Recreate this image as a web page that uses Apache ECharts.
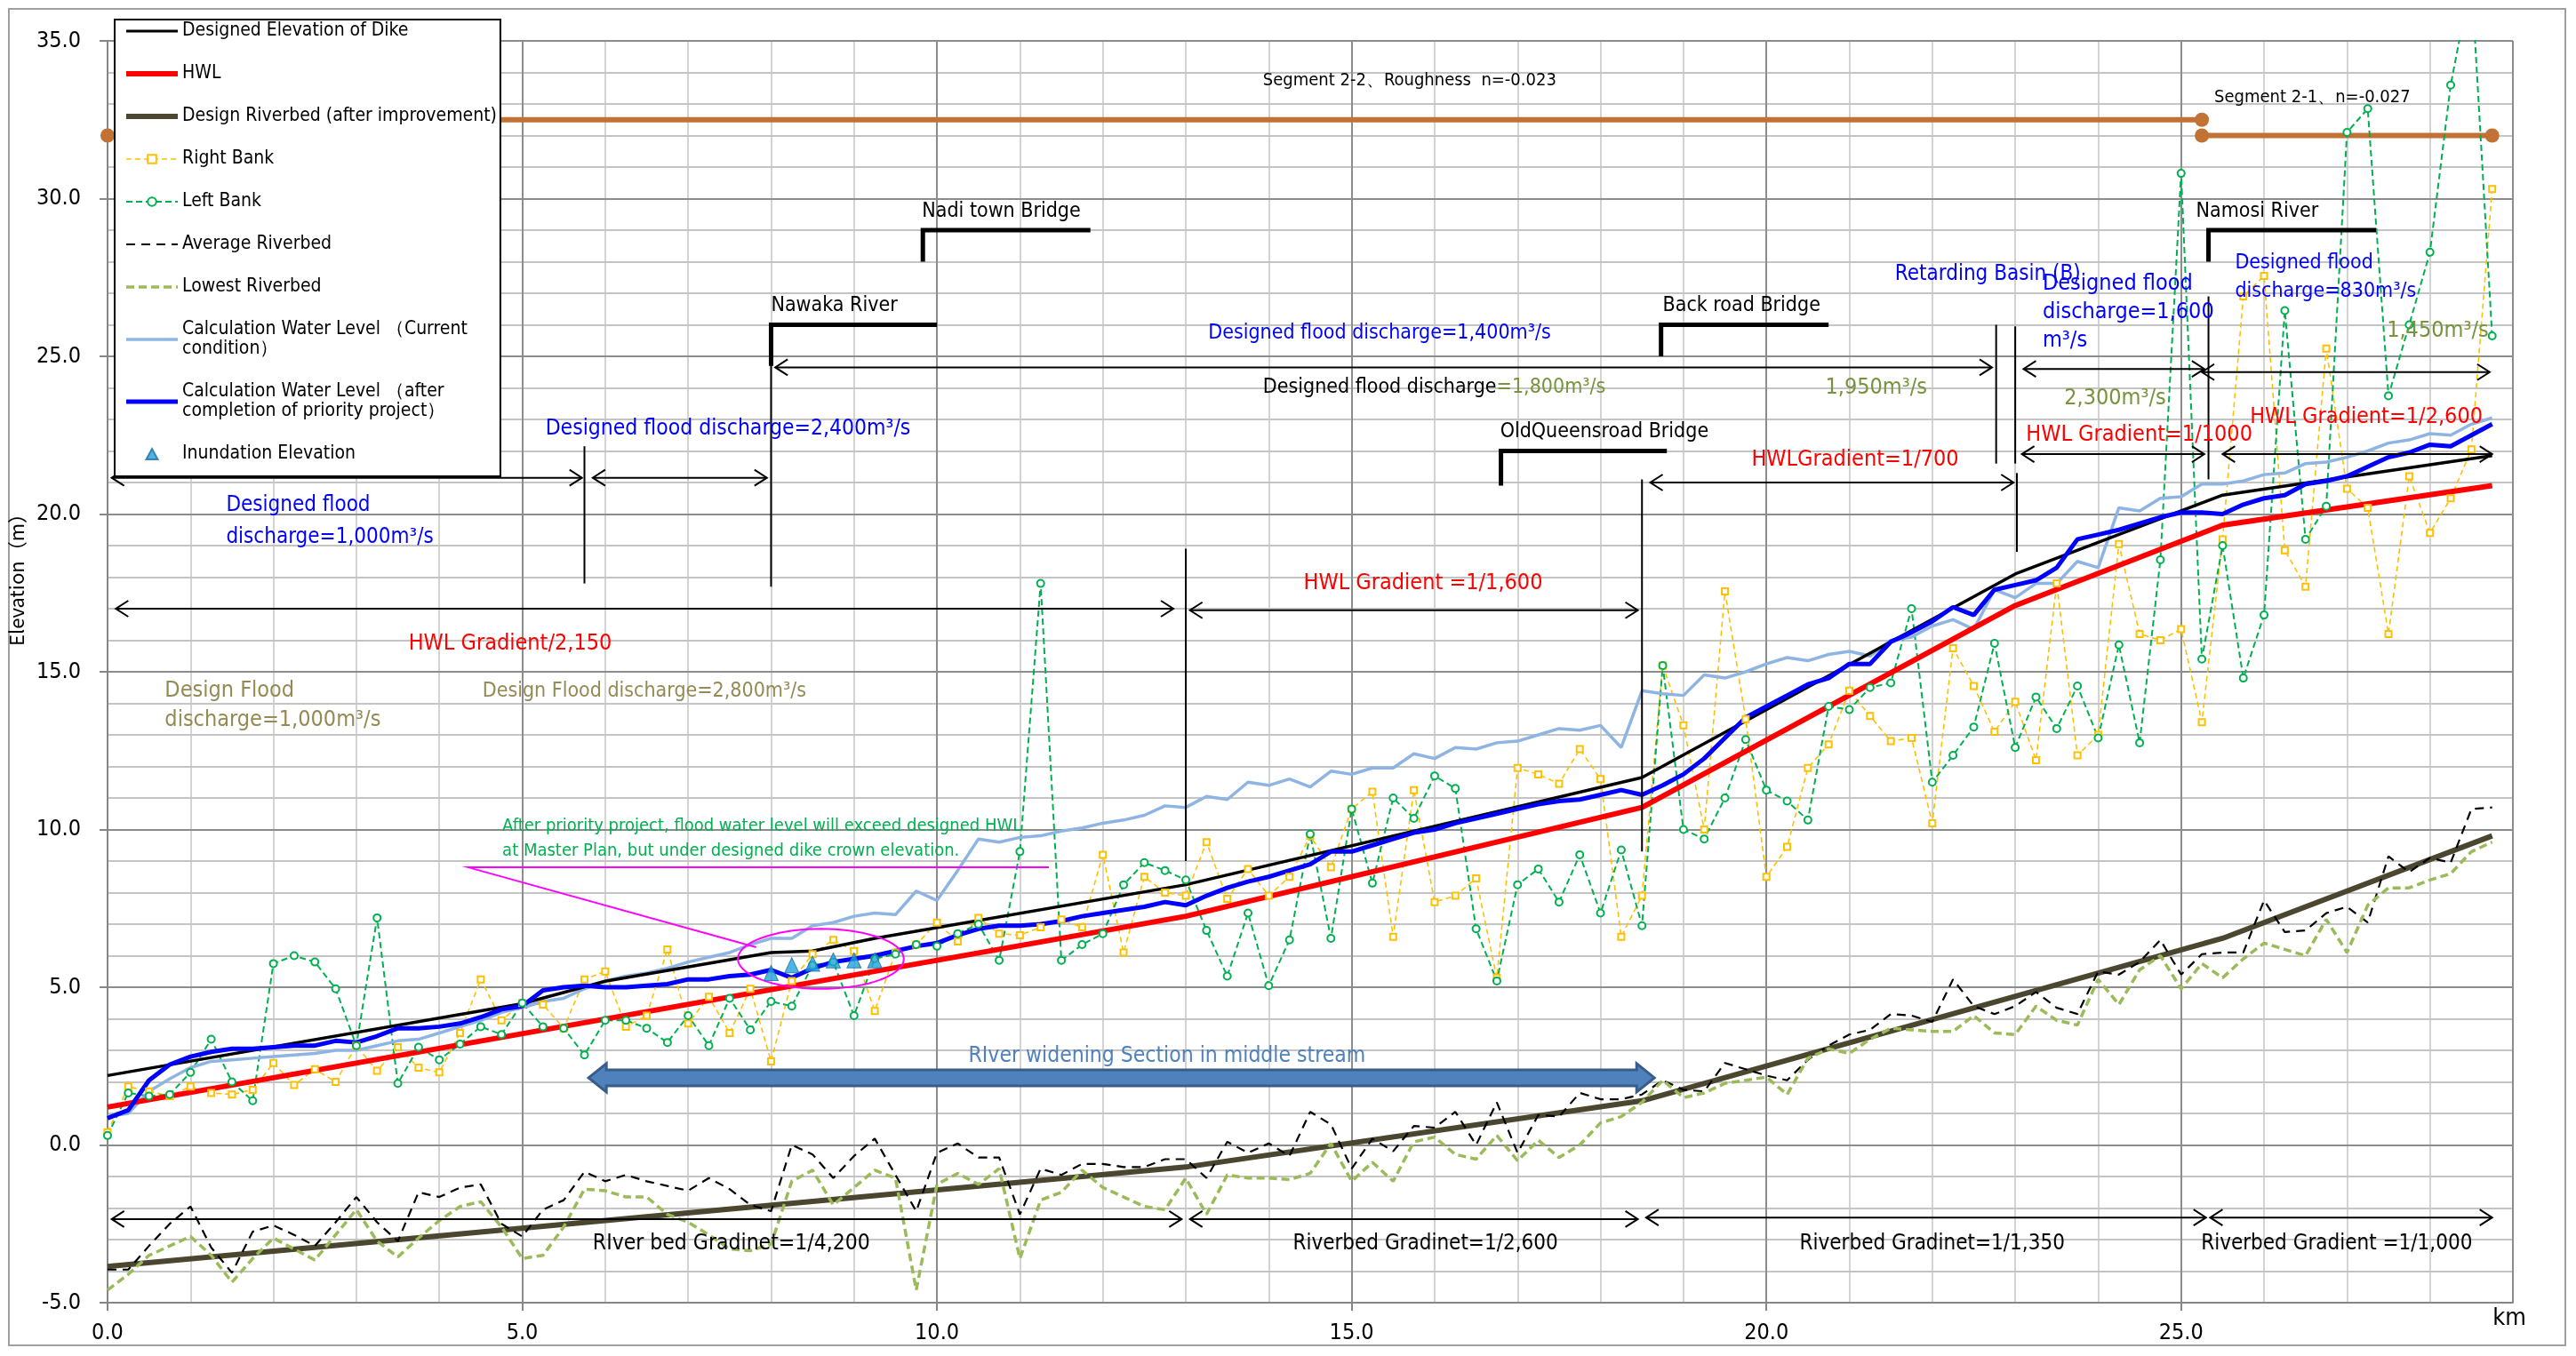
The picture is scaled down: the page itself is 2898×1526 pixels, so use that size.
<!DOCTYPE html>
<html><head><meta charset="utf-8">
<script src="https://cdn.jsdelivr.net/npm/echarts@6/dist/echarts.min.js"></script>
<style>html,body{margin:0;padding:0;background:#fff}#c{width:2898px;height:1526px}</style>
</head><body><div id="c"></div><script>
// ---------------- DATA ----------------
const STATIONS = [0,0.25,0.5,0.75,1,1.25,1.5,1.75,2,2.25,2.5,2.75,3,3.25,3.5,3.75,4,4.25,4.5,4.75,5,5.25,5.5,5.75,6,6.25,6.5,6.75,7,7.25,7.5,7.75,8,8.25,8.5,8.75,9,9.25,9.5,9.75,10,10.25,10.5,10.75,11,11.25,11.5,11.75,12,12.25,12.5,12.75,13,13.25,13.5,13.75,14,14.25,14.5,14.75,15,15.25,15.5,15.75,16,16.25,16.5,16.75,17,17.25,17.5,17.75,18,18.25,18.5,18.75,19,19.25,19.5,19.75,20,20.25,20.5,20.75,21,21.25,21.5,21.75,22,22.25,22.5,22.75,23,23.25,23.5,23.75,24,24.25,24.5,24.75,25,25.25,25.5,25.75,26,26.25,26.5,26.75,27,27.25,27.5,27.75,28,28.25,28.5,28.75];

const LEFT_BANK = [0.3,1.65,1.55,1.6, 2.3,3.35,2.0,1.4, 5.75,6.0,5.8,4.95, 3.15,7.2,1.95,3.1, 2.7,3.2,3.75,3.5, 4.5,3.75,3.7,2.85, 3.95,3.95,3.7,3.25, 4.1,3.15,4.65,3.65, 4.55,4.4,5.7,5.8, 4.1,5.9,6.05,6.35, 6.3,6.7,7.0,5.85, 9.3,17.8,5.85,6.35, 6.7,8.25,8.95,8.7, 8.4,6.8,5.35,7.35, 5.05,6.5,9.85,6.55, 10.65,8.3,11.0,10.35, 11.7,11.3,6.85,5.2, 8.25,8.75,7.7,9.2, 7.35,9.35,6.95,15.2, 10.0,9.7,11.0,12.85, 11.25,10.9,10.3,13.9, 13.8,14.5,14.65,17.0, 11.5,12.35,13.25,15.9, 12.6,14.2,13.2,14.55, 12.9,15.85,12.75,18.55, 30.8,15.4,19.0,14.8, 16.8,26.45,19.2,20.25, 32.1,32.85,23.75,26.0, 28.3,33.6,37.0,25.65];

const RIGHT_BANK = [0.4,1.85,1.7,1.55, 1.85,1.65,1.6,1.75, 2.6,1.9,2.4,2.0, 3.15,2.35,3.1,2.45, 2.3,3.55,5.25,3.95, 4.5,4.45,3.7,5.25, 5.5,3.75,4.1,6.2, 3.85,4.7,3.55,4.95, 2.65,5.2,6.05,6.5, 6.15,4.25,6.1,6.35, 7.05,6.45,7.2,6.7, 6.65,6.9,7.15,6.9, 9.2,6.1,8.5,8.0, 7.9,9.6,7.8,8.75, 7.9,8.5,9.8,8.8, 10.65,11.2,6.6,11.25, 7.7,7.9,8.45,5.3, 11.95,11.75,11.45,12.55, 11.6,6.6,7.9,15.2, 13.3,10.0,17.55,13.5, 8.5,9.45,11.95,12.7, 14.4,13.6,12.8,12.9, 10.2,15.75,14.55,13.1, 14.05,12.2,17.8,12.35, 13.0,19.05,16.2,16.0, 16.35,13.4,19.2,26.9, 27.55,18.85,17.7,25.25, 20.8,20.2,16.2,21.2, 19.4,20.5,22.05,30.3];

const AVG_RIVERBED = [-3.95,-3.95,-3.2,-2.5, -1.95,-3.25,-4.05,-2.75, -2.55,-2.85,-3.2,-2.45, -1.65,-2.45,-3.05,-1.5, -1.65,-1.35,-1.25,-2.5, -2.9,-2.05,-1.75,-0.85, -1.15,-0.95,-1.15,-1.3, -1.45,-1.05,-1.4,-1.9, -2.1,0.0,-0.3,-1.05, -0.35,0.2,-0.95,-2.1, -0.25,0.05,-0.4,-0.4, -2.2,-0.75,-0.95,-0.6, -0.6,-0.7,-0.7,-0.45, -0.45,-1.05,0.1,-0.25, 0.05,-0.35,1.05,0.65, -0.75,0.2,-0.2,0.6, 0.55,1.05,0.0,1.35, -0.25,0.95,0.9,1.65, 1.45,1.45,1.6,2.05, 1.75,1.7,2.6,2.4, 2.2,2.05,2.7,3.15, 3.5,3.65,4.15,4.1, 3.9,5.25,4.4,4.15, 4.4,4.85,4.35,4.15, 5.5,5.4,5.8,6.5, 5.4,6.05,6.1,6.1, 7.75,6.75,6.8,7.35, 7.55,7.05,9.15,8.65, 9.1,8.95,10.65,10.7];

const LOWEST_RIVERBED = [-4.6,-4.1,-3.5,-3.2, -2.9,-3.5,-4.35,-3.6, -2.95,-3.3,-3.65,-2.85, -2.05,-3.05,-3.55,-2.95, -2.4,-1.95,-1.8,-2.6, -3.6,-3.5,-2.6,-1.4, -1.45,-1.65,-1.65,-2.2, -2.45,-2.85,-3.3,-3.35, -3.15,-1.15,-0.8,-1.9, -1.35,-0.8,-1.05,-4.6, -1.25,-0.9,-1.25,-0.75, -3.6,-1.75,-1.5,-0.8, -1.35,-1.65,-1.95,-2.05, -1.05,-2.2,-0.95,-1.05, -1.05,-1.1,-0.9,0.05, -1.15,-0.55,-1.15,0.1, 0.25,-0.3,-0.45,0.3, -0.5,0.15,-0.4,0.0, 0.7,0.9,1.35,2.05, 1.5,1.65,1.95,2.05, 2.15,1.6,2.75,3.05, 2.9,3.35,3.7,3.65, 3.6,3.6,4.1,3.55, 3.5,4.4,3.95,3.8, 5.25,4.45,5.55,6.0, 4.95,5.75,5.3,5.9, 6.4,6.2,6.0,7.15, 6.1,7.6,8.15,8.15, 8.4,8.6,9.3,9.6];

const WL_CURRENT = [0.9,1.0,1.7,2.1, 2.45,2.65,2.7,2.75, 2.8,2.85,2.9,3.0, 3.0,3.15,3.3,3.35, 3.55,3.75,3.95,4.2, 4.35,4.55,4.65,4.95, 5.2,5.35,5.45,5.6, 5.8,5.95,6.1,6.35, 6.55,6.55,6.95,7.05, 7.25,7.35,7.3,8.05, 7.75,8.7,9.7,9.6, 9.75,9.8,9.95,10.05, 10.2,10.3,10.45,10.75, 10.7,11.05,10.95,11.5, 11.4,11.6,11.35,11.85, 11.75,11.95,11.95,12.4, 12.25,12.6,12.55,12.75, 12.8,13.0,13.2,13.15, 13.3,12.6,14.4,14.3, 14.25,14.9,14.8,15.0, 15.25,15.45,15.35,15.55, 15.65,15.5,16.0,16.1, 16.45,16.65,16.35,17.6, 17.35,17.8,17.8,18.5, 18.3,20.2,20.1,20.5, 20.55,20.95,20.95,21.05, 21.25,21.3,21.6,21.65, 21.8,22.0,22.25,22.35, 22.55,22.5,22.85,23.05];

const WL_AFTER = [0.85,1.1,2.05,2.55, 2.8,2.95,3.05,3.05, 3.1,3.15,3.15,3.3, 3.25,3.45,3.7,3.7, 3.75,3.85,4.05,4.3, 4.4,4.9,5.0,5.05, 5.0,5.0,5.05,5.1, 5.25,5.25,5.35,5.4, 5.55,5.3,5.6,5.8, 5.9,6.0,6.15,6.3, 6.4,6.65,6.85,6.95, 6.95,7.0,7.1,7.25, 7.35,7.45,7.55,7.7, 7.6,7.9,8.15,8.35, 8.5,8.7,8.9,9.3, 9.3,9.5,9.7,9.9, 10.0,10.2,10.35,10.5, 10.65,10.8,10.9,10.95, 11.1,11.25,11.1,11.4, 11.75,12.25,12.9,13.55, 13.9,14.25,14.6,14.8, 15.25,15.25,15.95,16.25, 16.6,17.05,16.8,17.6, 17.75,17.9,18.3,19.2, 19.35,19.5,19.7,19.9, 20.05,20.05,20.0,20.3, 20.5,20.6,20.95,21.05, 21.2,21.5,21.8,21.95, 22.2,22.15,22.5,22.85];

const DIKE_KM = [0, 5.0, 6.0, 8.0, 8.5, 9.25, 13.0, 18.5, 23.0, 25.5, 28.75];
const DIKE_EL = [2.2, 4.48, 5.19, 6.1, 6.15, 6.55, 8.25, 11.65, 18.1, 20.6, 21.85];
const HWL_KM = [0, 13.0, 18.5, 23.0, 25.5, 28.75];
const HWL_EL = [1.2, 7.25, 10.7, 17.1, 19.65, 20.9];
const BED_KM = [0, 13.0, 18.5, 25.5, 28.75];
const BED_EL = [-3.85, -0.7, 1.4, 6.55, 9.8];
const INUND_KM = [8.0, 8.25, 8.5, 8.75, 9.0, 9.25];
const INUND_EL = [5.45, 5.7, 5.75, 5.85, 5.85, 5.85];

const X_TICKS = [0, 5, 10, 15, 20, 25];
const Y_TICKS = [-5, 0, 5, 10, 15, 20, 25, 30, 35];

// ------------- ANNOTATION GEOMETRY (data coordinates) -------------
const ARROWS = [
  [0.05, 5.72, 21.15], [5.85, 7.95, 21.15], [8.05, 22.72, 24.65], [23.1, 25.28, 24.6], [25.25, 28.72, 24.5],
  [0.1, 12.85, 17.0], [13.05, 18.45, 16.95], [18.6, 22.98, 21.0], [23.08, 25.28, 21.9], [25.5, 28.75, 21.9],
  [0.05, 12.95, -2.35], [13.05, 18.45, -2.35], [18.55, 25.3, -2.3], [25.35, 28.75, -2.3]
];
const VLINES = [[5.75, 22.15, 17.8], [8.0, 26.0, 17.7], [13.0, 18.9, 9.0], [18.5, 21.1, 9.3],
  [22.77, 26.0, 21.6], [23.0, 25.95, 21.6], [23.02, 21.3, 18.8], [25.33, 26.9, 21.1]];
const BRIDGES = [[9.83, 29.0, 28.0, 11.85], [8.0, 26.0, 24.7, 10.0], [18.73, 26.0, 25.0, 20.75],
  [16.8, 22.0, 20.9, 18.8], [25.33, 29.0, 28.0, 27.35]];
const SEGMENTS = [[0, 2.0, 32.0, 1, 0], [2.0, 25.25, 32.5, 0, 1], [25.25, 28.75, 32.0, 1, 1]];
const WIDEN_ARROW = [[5.8, 18.65, 2.13]];
const CALLOUT = [[11.35, 8.8], [4.35, 8.8], [7.82, 6.27]];
const ELLIPSE = [[8.6, 5.9, 1.0, 0.95]];

const BLUE = '#0000FF', RED = '#FF0000', OLIVE = '#77933C', TAN = '#948A54', GREEN = '#00B050', STEEL = '#4F81BD';
const NARROW = "'Liberation Sans Narrow','Arial Narrow','DejaVu Sans Condensed',sans-serif";

const NOTES = [
  {x:13.93, y:33.75, t:'Segment 2-2、Roughness  n=-0.023', s:20},
  {x:25.4, y:33.2, t:'Segment 2-1、n=-0.027', s:20},
  {x:9.82, y:29.6, t:'Nadi town Bridge', s:23},
  {x:8.0, y:26.6, t:'Nawaka River', s:23},
  {x:18.75, y:26.6, t:'Back road Bridge', s:23},
  {x:16.79, y:22.6, t:'OldQueensroad Bridge', s:23},
  {x:25.18, y:29.6, t:'Namosi River', s:23},
  {x:21.55, y:27.6, t:'Retarding Basin (B)', c:BLUE, s:24},
  {x:23.33, y:26.4, t:'Designed flood\ndischarge=1,600\nm³/s', c:BLUE, s:25, lh:32},
  {x:25.65, y:27.52, t:'Designed flood\ndischarge=830m³/s', c:BLUE, s:23, lh:32},
  {x:27.48, y:25.8, t:'1,450m³/s', c:OLIVE, s:25},
  {x:13.27, y:25.73, t:'Designed flood discharge=1,400m³/s', c:BLUE, s:23},
  {x:13.93, y:24.0, t:'{a|Designed flood discharge}{b|=1,800m³/s}', s:23, rich:true},
  {x:20.71, y:24.0, t:'1,950m³/s', c:OLIVE, s:25},
  {x:23.59, y:23.65, t:'2,300m³/s', c:OLIVE, s:25},
  {x:5.28, y:22.7, t:'Designed flood discharge=2,400m³/s', c:BLUE, s:24.5},
  {x:1.43, y:19.77, t:'Designed flood\ndischarge=1,000m³/s', c:BLUE, s:24, lh:36},
  {x:3.63, y:15.9, t:'HWL Gradient/2,150', c:RED, s:25},
  {x:14.42, y:17.8, t:'HWL Gradient =1/1,600', c:RED, s:25},
  {x:19.82, y:21.72, t:'HWLGradient=1/700', c:RED, s:25},
  {x:23.13, y:22.5, t:'HWL Gradient=1/1000', c:RED, s:25},
  {x:25.83, y:23.07, t:'HWL Gradient=1/2,600', c:RED, s:25},
  {x:0.69, y:13.93, t:'Design Flood\ndischarge=1,000m³/s', c:TAN, s:25, lh:33},
  {x:4.52, y:14.37, t:'Design Flood discharge=2,800m³/s', c:TAN, s:23},
  {x:4.76, y:9.71, t:'After priority project, flood water level will exceed designed HWL\nat Master Plan, but under designed dike crown elevation.', c:GREEN, s:20, lh:28},
  {x:10.38, y:2.81, t:'RIver widening Section in middle stream', c:STEEL, s:24.5},
  {x:5.85, y:-3.13, t:'RIver bed Gradinet=1/4,200', s:24.5},
  {x:14.29, y:-3.13, t:'Riverbed Gradinet=1/2,600', s:24},
  {x:20.4, y:-3.13, t:'Riverbed Gradinet=1/1,350', s:24},
  {x:25.24, y:-3.13, t:'Riverbed Gradient =1/1,000', s:24}
];

// ---------------- HELPERS ----------------
const pair = (xs, ys) => xs.map((x, i) => [x, ys[i]]);
function vHead(px, py, dir) {
  const L = 14, W = 9;
  return {type:'polyline', shape:{points:[[px - dir*L, py - W], [px, py], [px - dir*L, py + W]]},
    style:{stroke:'#000', lineWidth:2, fill:'none'}};
}
const ann = (name, data, renderItem, z) => ({type:'custom', name, data, renderItem, silent:true, z: z || 3, clip:false});

const NAMES = {
  dike:'Designed Elevation of Dike', hwl:'HWL', bed:'Design Riverbed (after improvement)',
  rb:'Right Bank', lb:'Left Bank', avg:'Average Riverbed', low:'Lowest Riverbed',
  cur:'Calculation Water Level （Current condition）', aft:'Calculation Water Level （after completion of priority project）',
  inu:'Inundation Elevation'
};
const LEGEND_TEXT = {};
LEGEND_TEXT[NAMES.cur] = 'Calculation Water Level （Current\ncondition）';
LEGEND_TEXT[NAMES.aft] = 'Calculation Water Level （after\ncompletion of priority project）';
const noDot = w => ({itemStyle:{opacity:0}, lineStyle:{width:w}});

const chart = echarts.init(document.getElementById('c'), null, {renderer:'canvas'});
const option = {
  animation: false,
  backgroundColor: '#fff',
  textStyle: {fontFamily: NARROW},
  graphic: [{type:'rect', shape:{x:10, y:10, width:2876, height:1504}, style:{fill:'none', stroke:'#a0a0a0', lineWidth:2}, silent:true, z:-10}],
  grid: {left:118, right:71, top:46, bottom:60, containLabel:false},
  legend: {
    left:129, top:22, orient:'vertical', itemWidth:58, itemHeight:12, itemGap:26,
    padding:[2, 4, 14, 10], backgroundColor:'#fff', borderColor:'#000', borderWidth:2,
    selectedMode:false, symbolKeepAspect:true,
    textStyle:{fontFamily:NARROW, fontSize:21, color:'#000', lineHeight:22},
    formatter: n => LEGEND_TEXT[n] || n,
    data:[
      Object.assign({name:NAMES.dike}, noDot(3)),
      Object.assign({name:NAMES.hwl}, noDot(6)),
      Object.assign({name:NAMES.bed}, noDot(6)),
      {name:NAMES.rb, lineStyle:{width:1.6}},
      {name:NAMES.lb, lineStyle:{width:2}},
      Object.assign({name:NAMES.avg}, noDot(2.2)),
      Object.assign({name:NAMES.low}, noDot(3.5)),
      Object.assign({name:NAMES.cur}, noDot(3.5)),
      Object.assign({name:NAMES.aft}, noDot(5)),
      {name:NAMES.inu, icon:'path://M6,0L12,11L0,11Z', symbolKeepAspect:true}
    ]
  },
  xAxis: [
    {type:'value', min:0, max:29, interval:5, position:'bottom', z:1,
     name:'km', nameLocation:'end', nameGap:-4,
     nameTextStyle:{fontFamily:NARROW, fontSize:27, color:'#000', align:'center', verticalAlign:'top', padding:[4,0,0,0]},
     axisLine:{show:true, onZero:false, lineStyle:{color:'#868686', width:2}},
     axisTick:{show:true, length:9, lineStyle:{color:'#868686', width:2}},
     axisLabel:{fontFamily:NARROW, fontSize:25, color:'#000', margin:22, showMaxLabel:false,
       formatter: v => X_TICKS.indexOf(v) >= 0 ? v.toFixed(1) : ''},
     splitLine:{show:true, lineStyle:{color:'#8c8c8c', width:2}}},
    {type:'value', min:0, max:29, interval:1, z:0,
     axisLine:{show:false}, axisTick:{show:false}, axisLabel:{show:false},
     splitLine:{show:true, lineStyle:{color:'#c4c4c4', width:1.5}}}
  ],
  yAxis: [
    {type:'value', min:-5, max:35, interval:5, z:1,
     name:'Elevation（m）', nameLocation:'middle', nameGap:76,
     nameTextStyle:{fontFamily:"'Noto Sans CJK JP','Noto Sans',sans-serif", fontSize:22, color:'#000', padding:[0,0,0,218]},
     axisLine:{show:true, onZero:false, lineStyle:{color:'#868686', width:2}},
     axisTick:{show:true, length:9, lineStyle:{color:'#868686', width:2}},
     axisLabel:{fontFamily:NARROW, fontSize:25, color:'#000', margin:30,
       formatter: v => Y_TICKS.indexOf(v) >= 0 ? v.toFixed(1) : ''},
     splitLine:{show:true, lineStyle:{color:'#8c8c8c', width:2}}},
    {type:'value', min:-5, max:35, interval:1, z:0,
     axisLine:{show:false}, axisTick:{show:false}, axisLabel:{show:false},
     splitLine:{show:true, lineStyle:{color:'#c4c4c4', width:2}}}
  ],
  series: [
    {name:NAMES.bed, type:'line', data:pair(BED_KM, BED_EL), symbol:'none', color:'#4B462F', lineStyle:{color:'#4B462F', width:6}, z:2},
    {name:NAMES.avg, type:'line', data:pair(STATIONS, AVG_RIVERBED), symbol:'none', color:'#000', lineStyle:{color:'#000', width:2.2, type:[10,7]}, z:2},
    {name:NAMES.low, type:'line', data:pair(STATIONS, LOWEST_RIVERBED), symbol:'none', color:'#9BBB59', lineStyle:{color:'#9BBB59', width:3.5, type:[9,5]}, z:2},
    {name:NAMES.rb, type:'line', data:pair(STATIONS, RIGHT_BANK), symbol:'emptyRect', symbolSize:7, color:'#FFC000', lineStyle:{color:'#FFC000', width:1.6, type:[6,4]}, itemStyle:{color:'#FFC000', borderWidth:1.3}, z:2},
    {name:NAMES.lb, type:'line', data:pair(STATIONS, LEFT_BANK), symbol:'emptyCircle', symbolSize:8, color:'#00B050', lineStyle:{color:'#00B050', width:2, type:[7,4]}, itemStyle:{color:'#00B050', borderWidth:1.3}, z:2},
    {name:NAMES.cur, type:'line', data:pair(STATIONS, WL_CURRENT), symbol:'none', color:'#8DB4E2', lineStyle:{color:'#8DB4E2', width:3.5}, z:2},
    {name:NAMES.dike, type:'line', data:pair(DIKE_KM, DIKE_EL), symbol:'none', color:'#000', lineStyle:{color:'#000', width:3.5}, z:2},
    {name:NAMES.hwl, type:'line', data:pair(HWL_KM, HWL_EL), symbol:'none', color:RED, lineStyle:{color:RED, width:6}, z:2},
    {name:NAMES.aft, type:'line', data:pair(STATIONS, WL_AFTER), symbol:'none', color:BLUE, lineStyle:{color:BLUE, width:5}, z:2},
    {name:NAMES.inu, type:'scatter', data:pair(INUND_KM, INUND_EL), symbol:'triangle', symbolSize:[16,17], color:'#1FA2DA', itemStyle:{color:'#1FA2DA', borderColor:'#1B6FA6', borderWidth:1}, z:3},

    ann('segments', SEGMENTS, (p, api) => {
      const a = api.coord([api.value(0), api.value(2)]), b = api.coord([api.value(1), api.value(2)]);
      const ch = [{type:'line', shape:{x1:a[0], y1:a[1], x2:b[0], y2:b[1]}, style:{stroke:'#C27234', lineWidth:6}}];
      if (api.value(3)) ch.push({type:'circle', shape:{cx:a[0], cy:a[1], r:8}, style:{fill:'#C27234'}});
      if (api.value(4)) ch.push({type:'circle', shape:{cx:b[0], cy:b[1], r:8}, style:{fill:'#C27234'}});
      return {type:'group', children:ch};
    }, 2),
    ann('arrows', ARROWS, (p, api) => {
      const a = api.coord([api.value(0), api.value(2)]), b = api.coord([api.value(1), api.value(2)]);
      return {type:'group', children:[
        {type:'line', shape:{x1:a[0], y1:a[1], x2:b[0], y2:b[1]}, style:{stroke:'#000', lineWidth:2}},
        vHead(a[0], a[1], -1), vHead(b[0], b[1], 1)]};
    }),
    ann('dividers', VLINES, (p, api) => {
      const a = api.coord([api.value(0), api.value(1)]), b = api.coord([api.value(0), api.value(2)]);
      return {type:'line', shape:{x1:a[0], y1:a[1], x2:b[0], y2:b[1]}, style:{stroke:'#000', lineWidth:2}};
    }),
    ann('bridges', BRIDGES, (p, api) => {
      const bot = api.coord([api.value(0), api.value(2)]), top = api.coord([api.value(0), api.value(1)]), end = api.coord([api.value(3), api.value(1)]);
      return {type:'polyline', shape:{points:[bot, top, end]}, style:{stroke:'#000', lineWidth:5, fill:'none'}};
    }),
    ann('widening', WIDEN_ARROW, (p, api) => {
      const a = api.coord([api.value(0), api.value(2)]), b = api.coord([api.value(1), api.value(2)]);
      const h = 9, H = 16, L = 20, y = a[1];
      const pts = [[a[0], y], [a[0]+L, y-H], [a[0]+L, y-h], [b[0]-L, y-h], [b[0]-L, y-H], [b[0], y],
                   [b[0]-L, y+H], [b[0]-L, y+h], [a[0]+L, y+h], [a[0]+L, y+H]];
      return {type:'polygon', shape:{points:pts}, style:{fill:STEEL, stroke:'#385D8A', lineWidth:3}};
    }),
    ann('callout', [0], (p, api) => {
      return {type:'polyline', shape:{points:CALLOUT.map(q => api.coord(q))}, style:{stroke:'#FF00FF', lineWidth:2, fill:'none'}};
    }),
    ann('ellipse', ELLIPSE, (p, api) => {
      const c = api.coord([api.value(0), api.value(1)]);
      const ex = api.coord([api.value(0) + api.value(2), api.value(1)]);
      const ey = api.coord([api.value(0), api.value(1) + api.value(3)]);
      const rx = ex[0] - c[0], ry = c[1] - ey[1];
      const pts = [];
      for (let i = 0; i < 72; i++) { const t = i / 72 * Math.PI * 2; pts.push([c[0] + rx*Math.cos(t), c[1] + ry*Math.sin(t)]); }
      return {type:'polygon', shape:{points:pts}, style:{fill:'none', stroke:'#FF00FF', lineWidth:2}};
    }),
    ann('notes', NOTES.map(n => [n.x, n.y]), (p, api) => {
      const n = NOTES[p.dataIndex];
      const pt = api.coord([api.value(0), api.value(1)]);
      const style = {text:n.t, fill:n.c || '#000', fontSize:n.s, fontFamily:NARROW, align:'left', verticalAlign:'middle', lineHeight:n.lh || Math.round(n.s*1.25)};
      if (n.rich) style.rich = {a:{fill:'#000', fontSize:n.s, fontFamily:NARROW}, b:{fill:OLIVE, fontSize:n.s, fontFamily:NARROW}};
      return {type:'text', x:pt[0], y:pt[1], style};
    }, 5)
  ]
};
chart.setOption(option);
</script></body></html>
